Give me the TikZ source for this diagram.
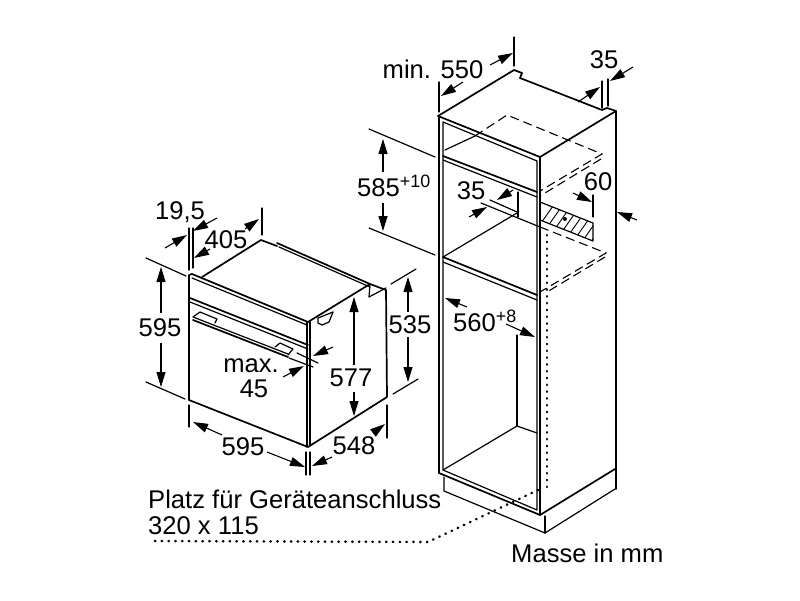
\documentclass[tikz,border=0pt]{standalone}
\usepackage{fontspec}
\setmainfont{Liberation Sans}
\usetikzlibrary{arrows.meta}
\begin{document}
\begin{tikzpicture}
[x=1pt,y=-1pt,
  thickline/.style={line width=1.7pt,line join=round,line cap=round},%
  thinline/.style={line width=1.2pt,line join=round,line cap=round},%
  dashline/.style={line width=1.1pt,dash pattern=on 9pt off 5pt},%
  dotline/.style={line width=2.6pt,line cap=round,dash pattern=on 0.4pt off 6.4pt},%
  dimarrow/.style={line width=1.1pt,-{Triangle[length=15pt,width=9pt]}},%
  dimlabel/.style={inner sep=0pt,font=\fontsize{25.6}{26}\selectfont}]
\useasboundingbox (0,0) rectangle (800,600);
%% oven
\draw[thickline] (202,277) -- (261,240) -- (277,246);
\draw[thickline] (277,243) -- (370,284) -- (386,290) -- (387,397) -- (308,447) -- (189,400) -- (189,275) -- (192,274) -- (308,322);
\draw[thinline] (192,278) -- (307,325);
\draw[thickline] (308,322) -- (370,284);
\draw[thinline] (370,284) -- (369,297) -- (386,288);
\draw[thinline] (279,247) -- (370,287);
\draw[thickline] (190,298) -- (308,345);
\draw[thinline] (190,302) -- (308,349);
\draw[thinline] (307,322) -- (307,447);
\draw[thickline] (310,322) -- (310,445);
%% oven door handle
\draw[thinline] (193,317) -- (200,312) -- (217,319) -- (215,323);
\draw[thinline] (275,347) -- (280,343) -- (293,349) -- (288,355);
\draw[thinline] (193,317) -- (288,354);
\draw[thickline] (193,320) -- (288,357);
%% side recess
\draw[thinline] (318,318) -- (318,323) -- (322,325) -- (329,322) -- (333,312);
\draw[thinline] (318,318) -- (333,312);
%% cabinet outline
\draw[thickline] (438,116) -- (514,70) -- (522,73) -- (520,78) -- (602,110) -- (607,108) -- (616,111) -- (616,489);
\draw[thickline] (438,116) -- (540,157) -- (616,111);
\draw[thickline] (439,116) -- (439,473) -- (540,515) -- (540,157);
\draw[thickline] (540,515) -- (615,469);
\draw[thinline] (443,122) -- (443,470) -- (537,510) -- (537,161) -- (443,122);
\draw[thinline] (444,477) -- (444,491) -- (545,533) -- (615,489);
\draw[thinline] (545,516) -- (545,533);
%% shelves
\draw[thickline] (443,156) -- (537,192);
\draw[thinline] (443,160) -- (537,197);
\draw[thickline] (443,257) -- (537,295);
\draw[thinline] (443,262) -- (537,300);
\draw[thinline] (445,150) -- (475,136);
\draw[dashline] (475,136) -- (507,115) -- (602,154) -- (540,191);
\draw[dashline] (601,159) -- (540,196);
\draw[thinline] (443,257) -- (517,213);
\draw[thinline] (518,192) -- (518,217);
\draw[thinline] (490,200) -- (517,212);
\draw[thinline] (481,203) -- (540,227);
\draw[dashline] (540,227) -- (606,253) -- (540,292);
\draw[dashline] (605,257) -- (547,292);
%% floor and back wall
\draw[thinline] (517,335) -- (517,426);
\draw[thinline] (443,470) -- (517,426) -- (537,433);
%% hatched opening
\begin{scope}
\clip (540,202) -- (593,223) -- (593,241) -- (540,220) -- cycle;
\foreach \hatch in {0,9,...,108}
{
  \draw[line width=0.9pt] (525+\hatch,246) -- (560+\hatch,196);
}
\end{scope}
\draw[thinline] (540,202) -- (593,223) -- (593,241) -- (540,220);
\fill (565,219) circle (2pt);
%% connection space
\draw[dotline] (547,235) -- (547,487);
\draw[dotline] (538,490) -- (428,542) -- (150,541);
%% extension lines
\foreach \xa/\ya/\xb/\yb in {
  189/228/189/270, 193/228/193/268, 262/208/262/235,
  146/258/186/276, 146/382/185/399, 391/284/416/269, 393/394/418/379,
  189/405/189/427, 306/452/306/475, 310/452/310/475, 387/405/387/438,
  297/353/318/363, 289/358/313/367,
  439/82/439/112, 514/37/514/66, 602/81/602/108, 608/79/608/106,
  369/129/435/157, 369/228/435/255, 593/195/593/217}
{
  \draw[thinline] (\xa,\ya) -- (\xb,\yb);
}
%% dimension arrows
\foreach \xa/\ya/\xb/\yb in {
  165/248/187/235, 217/218/193/231, 210/249/194/258, 245/229/259/219,
  161/313/161/267, 161/343/161/387, 408/312/408/277, 408/337/408/382,
  354/365/354/297, 354/392/354/416,
  222/435/193/422, 267/452/305/467, 332/457/312/466, 373/433/385/424,
  333/347/313/356, 283/377/304/366,
  463/82/441/96, 490/65/513/53, 578/102/600/87, 633/67/610/81,
  383/172/383/139, 383/203/383/231, 513/190/497/200, 469/217/487/207,
  573/193/592/202, 637/220/617/212, 467/307/445/298, 506/324/535/337}
{
  \draw[dimarrow] (\xa,\ya) -- (\xb,\yb);
}
%% labels
\foreach \nodename/\x/\y/\labeltext in {
  ovenfuge/180/212/{19,5}, ovendepth/226/240/405, ovenheight/160/328/595,
  ovenmax/251/366/max., ovenmaxval/254/389/45, ovenbody/351/378/577,
  ovenside/410/325/535, ovenwidth/243/447/595, ovensidew/354/446/548,
  cabdepth/433/69/{min. 550}, cabrear/604/60/35, cabheight/394/186/{585\textsuperscript{+10}},
  cabgap/471/191/35, cabvent/598/182/60, cabwidth/485/321/{560\textsuperscript{+8}}}
{
  \node (\nodename) at (\x,\y) [dimlabel] {\labeltext};
}
\node (platz) at (148,499) [dimlabel,anchor=west] {Platz für Geräteanschluss};
\node (platzsize) at (148,526) [dimlabel,anchor=west] {320 x 115};
\node (masse) at (511,553) [dimlabel,anchor=west] {Masse in mm};
\end{tikzpicture}
\end{document}
